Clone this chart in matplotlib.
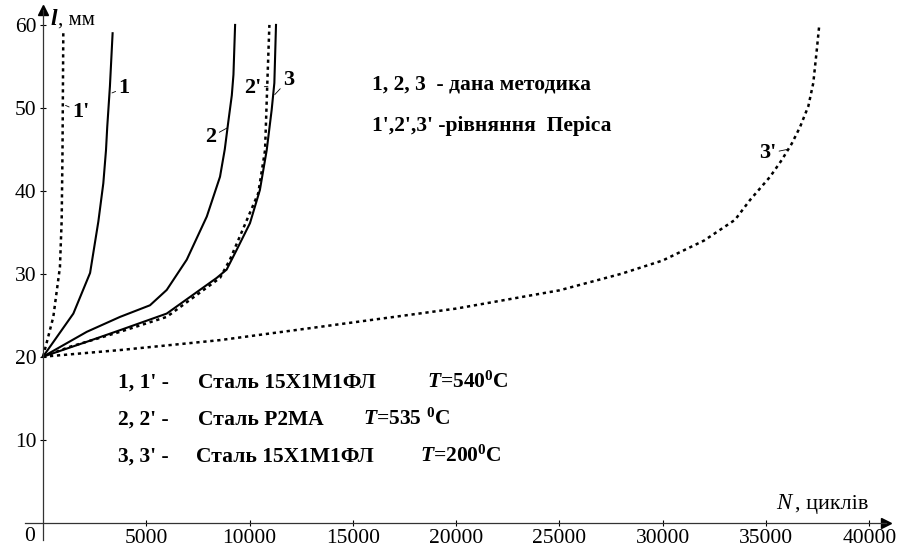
import matplotlib
matplotlib.use("Agg")
import matplotlib.pyplot as plt

# Криві росту тріщини: N, циклів -> l, мм
n_1 = [0, 1470, 2280, 2680, 2920, 3050, 3110, 3240, 3370]
l_1 = [20, 25.2, 30.1, 36.3, 40.9, 44.9, 47.7, 52.6, 59.0]

n_1p = [0, 180, 500, 820, 905, 945, 983]
l_1p = [20, 21.7, 24.8, 30.8, 36.5, 44.9, 59.0]

n_2 = [0, 2120, 3730, 5180, 5990, 6960, 7930, 8570, 8800, 8980, 9140, 9220, 9300]
l_2 = [20, 23.0, 24.8, 26.2, 28.05, 31.7, 36.9, 41.7, 45.0, 48.5, 51.5, 54.0, 60.0]

n_2p = [0, 1310, 3730, 5990, 8570, 9050, 10420, 10750, 10860, 10960]
l_2p = [20, 21.2, 23.0, 24.8, 29.5, 31.7, 39.7, 44.9, 53.0, 60.0]

n_3 = [0, 2120, 3730, 5990, 8410, 8890, 9380, 10020, 10500, 10830, 11070, 11200, 11280]
l_3 = [20, 21.8, 23.2, 25.2, 29.5, 30.5, 32.9, 36.1, 40.1, 44.9, 49.75, 53.0, 60.0]

n_3p = [0, 3730, 8570, 13410, 20000, 25000, 28000, 30000, 32000, 33500,
        34230, 35200, 35760, 36250, 36650, 37050, 37290, 37460, 37580]
l_3p = [20, 20.8, 22.0, 23.6, 25.8, 28.0, 30.0, 31.6, 34.0, 36.5,
        38.9, 41.7, 43.7, 45.7, 47.7, 50.2, 53.0, 57.0, 60.0]

x_ticks = [5000, 10000, 15000, 20000, 25000, 30000, 35000, 40000]
y_ticks = [10, 20, 30, 40, 50, 60]

plt.rcParams['font.family'] = ['Liberation Serif', 'DejaVu Serif']
plt.rcParams['mathtext.fontset'] = 'custom'
plt.rcParams['mathtext.rm'] = 'Liberation Serif:bold'
plt.rcParams['mathtext.it'] = 'Liberation Serif:italic:bold'
plt.rcParams['mathtext.bf'] = 'Liberation Serif:bold'

W, H = 898, 551
fig = plt.figure(figsize=(W / 100, H / 100), dpi=100)
ax = fig.add_axes([25 / W, 11 / H, 861 / W, 530 / H])
ax.set_xlim(-871, 40810)
ax.set_ylim(-2.1, 61.8)

# осі через початок координат
for s in ['top', 'right']:
    ax.spines[s].set_visible(False)
ax.spines['left'].set_position(('data', 0))
ax.spines['bottom'].set_position(('data', 0))
for s in ['left', 'bottom']:
    ax.spines[s].set_color('#333333')
    ax.spines[s].set_linewidth(0.9)
ax.plot(1, 0, '>', color='black', ms=7, transform=ax.get_yaxis_transform(), clip_on=False)
ax.plot(0, 1, '^', color='black', ms=7, transform=ax.get_xaxis_transform(), clip_on=False)

ax.set_xticks(x_ticks)
ax.set_yticks(y_ticks)
ax.tick_params(direction='inout', length=5, width=0.8, labelsize=15.5, colors='black')
ax.tick_params(axis='x', pad=2)
ax.tick_params(axis='y', pad=2)

solid = dict(color='black', lw=1.5)
dotted = dict(color='black', lw=1.8, linestyle=(0, (1.3, 1.5)))
ax.plot(n_1, l_1, **solid)
ax.plot(n_2, l_2, **solid)
ax.plot(n_3, l_3, **solid)
ax.plot(n_1p, l_1p, **dotted)
ax.plot(n_2p, l_2p, **dotted)
ax.plot(n_3p, l_3p, **dotted)

# підписи кривих з виносками
lead = dict(arrowstyle='-', color='black', lw=0.6, shrinkA=0, shrinkB=0)
lab = dict(fontsize=16, fontweight='bold', va='center')
ax.annotate('1', xy=(3340, 51.8), xytext=(3650, 52.4), arrowprops=lead, ha='left', **lab)
ax.annotate("1'", xy=(1090, 50.3), xytext=(1400, 49.5), arrowprops=lead, ha='left', **lab)
ax.annotate('2', xy=(8930, 47.6), xytext=(8400, 46.5), arrowprops=lead, ha='right', **lab)
ax.annotate("2'", xy=(10890, 52.6), xytext=(10580, 52.4), arrowprops=lead, ha='right', **lab)
ax.annotate('3', xy=(11220, 51.6), xytext=(11620, 53.4), arrowprops=lead, ha='left', **lab)
ax.annotate("3'", xy=(36050, 45.0), xytext=(35500, 44.5), arrowprops=lead, ha='right', **lab)


def put(x, y, s, **kw):
    fig.text(x / W, 1 - y / H, s, va='baseline', **kw)


# підписи осей
put(50, 25, 'l', fontsize=17, fontweight='bold', style='italic')
put(58, 25, ', мм', fontsize=15)
put(776, 509, 'N', fontsize=16.5, style='italic')
put(795, 509, ', циклів', fontsize=16)
put(24, 541, '0', fontsize=15.5)

# легенда
bold = dict(fontsize=15.5, fontweight='bold')
put(372, 89, '1, 2, 3  - дана методика', **bold)
put(372, 131, "1',2',3' -рівняння  Періса", **bold)

put(118, 388, "1, 1' -", **bold)
put(198, 388, 'Сталь 15Х1М1ФЛ', **bold)
put(427, 388, r'$\mathit{T}$=540$^{0}$C', **bold)

put(118, 425, "2, 2' -", **bold)
put(198, 425, 'Сталь Р2МА', **bold)
put(363, 425, r'$\mathit{T}$=535 $^{0}$C', **bold)

put(118, 462, "3, 3' -", **bold)
put(196, 462, 'Сталь 15Х1М1ФЛ', **bold)
put(420, 462, r'$\mathit{T}$=200$^{0}$C', **bold)

fig.savefig('out.png', dpi=100)
